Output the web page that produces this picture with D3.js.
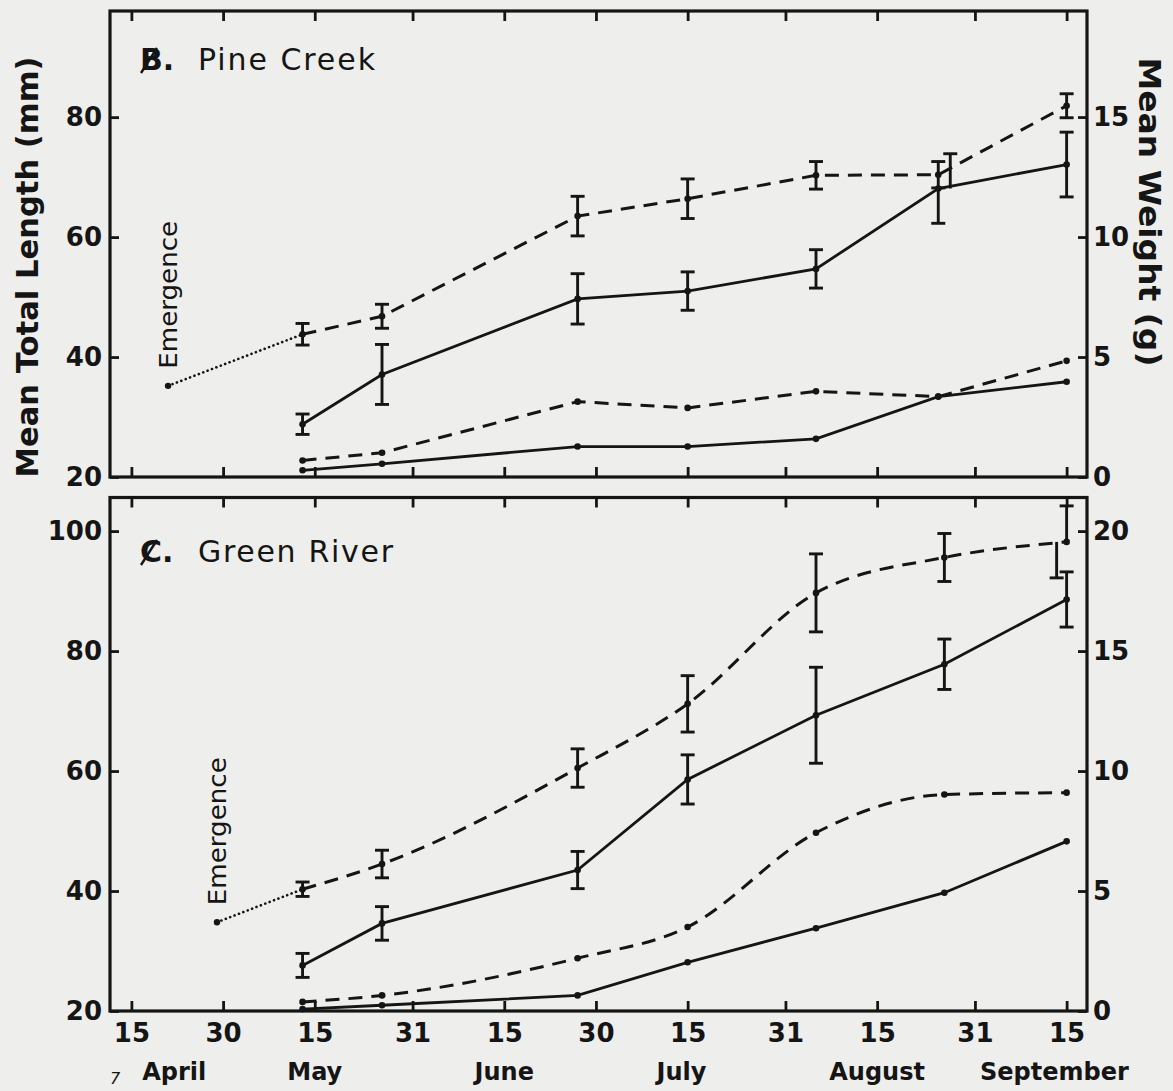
<!DOCTYPE html>
<html>
<head>
<meta charset="UTF-8">
<style>
html, body { margin:0; padding:0; background:#eeeeec; }
svg { display:block; font-family:"DejaVu Sans", sans-serif; }
.frame { fill:none; stroke:#151515; stroke-width:3.2; }
.tick line { stroke:#151515; stroke-width:2.8; }
.tick text { fill:#151515; font-size:26px; font-weight:bold; font-family:"DejaVu Sans", sans-serif; }
.len-line { fill:none; stroke:#151515; stroke-width:2.8; }
.dash { stroke-dasharray:14,9; stroke-width:3; }
.emerge { fill:none; stroke:#151515; stroke-width:2.6; stroke-dasharray:0.1,4.6; stroke-linecap:round; }
.err { stroke:#151515; stroke-width:2.9; }
.label { fill:#151515; }
</style>
</head>
<body>
<svg width="1173" height="1091"></svg>
<script src="https://d3js.org/d3.v7.min.js"></script>
<script>
var ink = "#151515";

// x axis: half-month ticks
var tickDates = ["04-15","04-30","05-15","05-31","06-15","06-30","07-15","07-31","08-15","08-31","09-15"];
var tickLabels = ["15","30","15","31","15","30","15","31","15","31","15"];
var monthNames = ["April","May","June","July","August","September"];
var monthDates = ["04-22","05-15","06-15","07-14","08-15","09-13"];

// y ticks
var lenTicksPine = [20, 40, 60, 80];
var wtTicksPine = [0, 5, 10, 15];
var lenTicksGreen = [20, 40, 60, 80, 100];
var wtTicksGreen = [0, 5, 10, 15, 20];

// Pine Creek
var pineDates = ["05-13","05-26","06-27","07-15","08-05","08-25","09-15"];
var pineLenDash = [43.8, 46.8, 63.5, 66.4, 70.3, 70.4, 81.9];
var pineLenDashErr = [1.8, 2.0, 3.3, 3.3, 2.3, 2.2, 2.0];
var pineLenSolid = [28.8, 37.1, 49.7, 51.0, 54.7, 68.1, 72.1];
var pineLenSolidErr = [1.7, 5.0, 4.2, 3.2, 3.2, 5.8, 5.4];
var pineWtDash = [0.69, 1.01, 3.14, 2.88, 3.57, 3.35, 4.84];
var pineWtSolid = [0.28, 0.55, 1.27, 1.27, 1.59, 3.35, 3.97];
var pineEmergence = ["04-21", 35.2];

// Green River
var greenDates = ["05-13","05-26","06-27","07-15","08-05","08-26","09-15"];
var greenLenDash = [40.3, 44.5, 60.5, 71.2, 89.7, 95.6, 98.2];
var greenLenDashErr = [1.2, 2.3, 3.2, 4.7, 6.5, 4.0, 6.0];
var greenLenSolid = [27.6, 34.6, 43.5, 58.6, 69.3, 77.8, 88.6];
var greenLenSolidErr = [2.0, 2.8, 3.1, 4.1, 8.0, 4.2, 4.6];
var greenWtDash = [0.38, 0.65, 2.2, 3.5, 7.43, 9.02, 9.1];
var greenWtSolid = [0.08, 0.24, 0.65, 2.03, 3.45, 4.93, 7.07];
var greenEmergence = ["04-29", 34.8];

var parse = d3.timeParse("%Y-%m-%d");
function day(s) { return parse("1975-" + s); }

var svg = d3.select("svg");
var L = 110, R = 1087;

var x = d3.scaleTime()
    .domain([new Date(1975, 3, 11, 12), new Date(1975, 8, 18, 8)])
    .range([L, R]);

function styleAxis(g) {
  g.select(".domain").remove();
}

function drawPanel(p) {
  var yLen = d3.scaleLinear().domain(p.lenDomain).range([p.bottom, p.top]);
  var yWt = d3.scaleLinear().domain(p.wtDomain).range([p.bottom, p.top]);
  var g = svg.append("g");

  // ticks, all pointing inward
  g.append("g").attr("transform", "translate(0," + p.bottom + ")")
    .call(d3.axisBottom(x).tickValues(tickDates.map(day)).tickSize(-10).tickPadding(13)
      .tickFormat(function(d, i) { return p.xLabels ? tickLabels[i] : ""; }))
    .call(styleAxis);
  g.append("g").attr("transform", "translate(0," + p.top + ")")
    .call(d3.axisTop(x).tickValues(tickDates.map(day)).tickSize(-10).tickFormat(""))
    .call(styleAxis);
  g.append("g").attr("transform", "translate(" + L + ",0)")
    .call(d3.axisLeft(yLen).tickValues(p.lenTicks).tickSize(-9).tickPadding(8))
    .call(styleAxis);
  g.append("g").attr("transform", "translate(" + R + ",0)")
    .call(d3.axisRight(yWt).tickValues(p.wtTicks).tickSize(-9).tickPadding(6))
    .call(styleAxis);

  g.append("rect").attr("class", "frame")
    .attr("x", L).attr("y", p.top)
    .attr("width", R - L).attr("height", p.bottom - p.top);

  var dates = p.dates.map(day);
  function pts(vals) { return vals.map(function(v, i) { return [dates[i], v]; }); }

  function line(y, curve) {
    return d3.line().x(function(d) { return x(d[0]); }).y(function(d) { return y(d[1]); })
      .curve(curve || d3.curveLinear);
  }

  // emergence dotted link
  g.append("path").attr("class", "emerge")
    .attr("d", line(yLen)([[day(p.emergence[0]), p.emergence[1]], [dates[0], p.lenDash[0]]]));
  g.append("circle").attr("cx", x(day(p.emergence[0]))).attr("cy", yLen(p.emergence[1]))
    .attr("r", 3.2).attr("fill", ink);
  g.append("text").attr("class", "label")
    .attr("transform", "translate(" + x(day(p.emergence[0])) + "," + (yLen(p.emergence[1]) - 17) + ") rotate(-90)")
    .attr("dy", "0.35em").style("font-size", "25px")
    .attr("textLength", 148).attr("lengthAdjust", "spacingAndGlyphs")
    .text("Emergence");

  var series = [
    { vals: p.lenDash, err: p.lenDashErr, y: yLen, dash: true, key: "dash", curve: p.dashCurve },
    { vals: p.lenSolid, err: p.lenSolidErr, y: yLen, dash: false, key: "solid" },
    { vals: p.wtDash, y: yWt, dash: true, curve: p.dashCurve },
    { vals: p.wtSolid, y: yWt, dash: false }
  ];

  series.forEach(function(s) {
    g.append("path")
      .attr("class", "len-line" + (s.dash ? " dash" : ""))
      .attr("d", line(s.y, s.curve)(pts(s.vals)));
  });

  series.forEach(function(s) {
    if (!s.err) return;
    s.vals.forEach(function(v, i) {
      var cx = x(dates[i]);
      [["up", v + s.err[i]], ["down", v - s.err[i]]].forEach(function(h) {
        var dx = p.shift[s.key + "-" + i + "-" + h[0]] || 0;
        var yEnd = s.y(h[1]);
        g.append("line").attr("class", "err")
          .attr("x1", cx + dx).attr("x2", cx + dx)
          .attr("y1", s.y(v)).attr("y2", yEnd);
        g.append("line").attr("class", "err")
          .attr("x1", cx + dx - 7).attr("x2", cx + dx + 7)
          .attr("y1", yEnd).attr("y2", yEnd);
      });
    });
  });

  series.forEach(function(s) {
    g.selectAll(null).data(pts(s.vals)).enter().append("circle")
      .attr("cx", function(d) { return x(d[0]); })
      .attr("cy", function(d) { return s.y(d[1]); })
      .attr("r", 3.3).attr("fill", ink);
  });

  // panel title with struck-through letter
  var letter = g.append("text").attr("class", "label")
    .attr("x", L + 30).attr("y", p.titleY)
    .style("font-size", "30px").style("font-weight", "bold").text(p.letter + ".");
  var bb = letter.node().getBBox();
  g.append("line").attr("stroke", ink).attr("stroke-width", 2.4)
    .attr("x1", bb.x + 1).attr("y1", bb.y + bb.height - 4)
    .attr("x2", bb.x + 17).attr("y2", bb.y + 6);
  g.append("text").attr("class", "label")
    .attr("x", L + 88).attr("y", p.titleY)
    .style("font-size", "30px")
    .attr("textLength", p.titleLen).attr("lengthAdjust", "spacing")
    .text(p.title);

  g.selectAll(".tick text").attr("fill", ink);
  return g;
}

drawPanel({
  top: 11, bottom: 477, lenDomain: [20, 97.7], wtDomain: [0, 19.42],
  lenTicks: lenTicksPine, wtTicks: wtTicksPine, xLabels: false,
  dates: pineDates, lenDash: pineLenDash, lenDashErr: pineLenDashErr,
  lenSolid: pineLenSolid, lenSolidErr: pineLenSolidErr,
  wtDash: pineWtDash, wtSolid: pineWtSolid, emergence: pineEmergence,
  letter: "B", title: "Pine Creek", titleY: 70, titleLen: 177,
  shift: { "solid-5-up": 12 }
});

drawPanel({
  top: 497.5, bottom: 1011, lenDomain: [20, 105.6], wtDomain: [0, 21.4],
  lenTicks: lenTicksGreen, wtTicks: wtTicksGreen, xLabels: true,
  dates: greenDates, lenDash: greenLenDash, lenDashErr: greenLenDashErr,
  lenSolid: greenLenSolid, lenSolidErr: greenLenSolidErr,
  wtDash: greenWtDash, wtSolid: greenWtSolid, emergence: greenEmergence,
  letter: "C", title: "Green River", titleY: 562, titleLen: 195,
  dashCurve: d3.curveMonotoneX,
  shift: { "dash-6-down": -10 }
});

// month names under the bottom axis
svg.append("g").selectAll("text").data(monthNames).enter().append("text")
  .attr("class", "label")
  .attr("x", function(d, i) { return x(day(monthDates[i])); })
  .attr("y", 1080)
  .attr("text-anchor", "middle")
  .style("font-size", "24px").style("font-weight", "bold")
  .text(function(d) { return d; });

// axis titles
svg.append("text").attr("class", "label")
  .attr("transform", "translate(27,267) rotate(-90)")
  .attr("text-anchor", "middle").attr("dy", "0.35em")
  .style("font-size", "31px").style("font-weight", "bold")
  .attr("textLength", 421).attr("lengthAdjust", "spacingAndGlyphs")
  .text("Mean Total Length (mm)");

svg.append("text").attr("class", "label")
  .attr("transform", "translate(1150,212) rotate(90)")
  .attr("text-anchor", "middle").attr("dy", "0.35em")
  .style("font-size", "31px").style("font-weight", "bold")
  .attr("textLength", 309).attr("lengthAdjust", "spacingAndGlyphs")
  .text("Mean Weight (g)");

// stray page mark at the lower left
svg.append("text").attr("class", "label")
  .attr("x", 110).attr("y", 1084)
  .style("font-size", "16px").style("font-style", "italic")
  .text("7");
</script>
</body>
</html>
